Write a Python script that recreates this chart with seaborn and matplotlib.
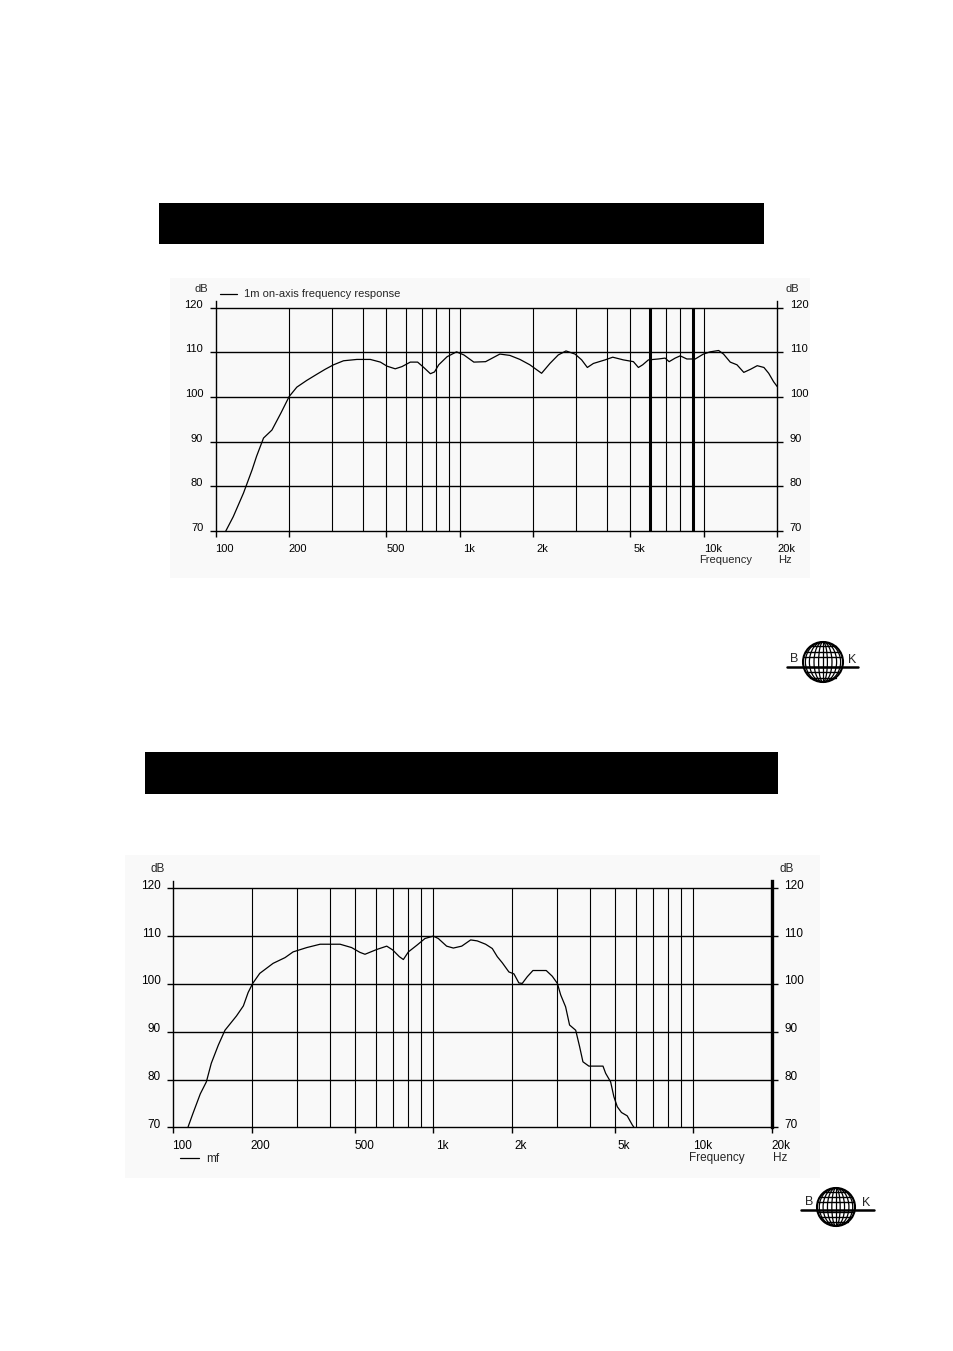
import numpy as np
import pandas as pd
import matplotlib
matplotlib.use("Agg")
import matplotlib.pyplot as plt
from matplotlib.patches import Rectangle, Ellipse
from matplotlib.transforms import ScaledTranslation
import seaborn as sns

# --- data ---
freq_on_axis = [110, 118, 130, 141, 147, 157, 170, 185, 200, 215, 236, 260, 281, 304, 334,
                379, 430, 473, 503, 544, 580, 627, 672, 712, 758, 788, 820, 887, 970, 1040,
                1142, 1276, 1460, 1604, 1764, 1937, 2164, 2341, 2532, 2724, 2967, 3158, 3332,
                3528, 3940, 4234, 4680, 5146, 5394, 5618, 5928, 6514, 6940, 7208, 7632, 8000,
                8520, 9220, 9960, 10620, 11500, 12040, 12830, 13670, 14580, 15540, 16550,
                17630, 18440, 19320, 20000]
db_on_axis = [70.0, 73.2, 78.5, 83.7, 86.7, 90.8, 92.6, 96.4, 100.1, 102.2, 103.7, 105.1,
              106.2, 107.2, 108.1, 108.4, 108.4, 107.8, 106.9, 106.3, 106.8, 107.8, 107.8,
              106.6, 105.2, 105.6, 107.2, 109.0, 110.1, 109.4, 107.8, 107.9, 109.6, 109.3,
              108.4, 107.2, 105.3, 107.5, 109.4, 110.3, 109.6, 108.3, 106.6, 107.5, 108.3,
              108.9, 108.3, 107.9, 106.6, 107.2, 108.3, 108.5, 108.7, 107.9, 108.7, 109.2,
              108.5, 108.5, 109.6, 110.1, 110.4, 109.6, 107.8, 107.2, 105.5, 106.2, 107.0,
              106.6, 105.3, 103.4, 102.3]

freq_mf = [114, 119, 127, 134, 140, 149, 158, 175, 186, 194, 202, 215, 242, 269, 289, 326,
           367, 438, 485, 522, 546, 606, 662, 698, 740, 767, 802, 865, 929, 1000, 1045, 1125,
           1194, 1286, 1392, 1475, 1589, 1686, 1762, 1843, 1953, 2042, 2133, 2198, 2298,
           2416, 2718, 2868, 3000, 3089, 3227, 3342, 3529, 3652, 3762, 3966, 4493, 4600,
           4808, 4948, 5100, 5292, 5568, 5824, 5910]
db_mf = [70.1, 72.9, 77.0, 79.5, 83.4, 87.2, 90.3, 93.3, 95.4, 98.2, 100.1, 102.2, 104.3,
         105.5, 106.7, 107.6, 108.3, 108.3, 107.6, 106.6, 106.2, 107.2, 107.9, 107.1, 105.7,
         105.1, 106.7, 108.1, 109.5, 110.0, 109.5, 107.9, 107.5, 107.9, 109.2, 109.0, 108.3,
         107.4, 105.7, 104.4, 102.5, 102.1, 100.2, 100.1, 101.5, 102.8, 102.8, 101.6, 100.1,
         97.7, 95.2, 91.4, 90.3, 86.9, 83.7, 82.8, 82.8, 81.3, 79.5, 76.4, 74.3, 73.1, 72.4,
         70.5, 70.0]

tick_freqs = [100, 200, 500, 1000, 2000, 5000, 10000, 20000]
tick_labels = ["100", "200", "500", "1k", "2k", "5k", "10k", "20k"]
db_ticks = [70, 80, 90, 100, 110, 120]
grid_freqs = [200, 300, 400, 500, 600, 700, 800, 900, 1000, 2000, 3000, 4000,
              5000, 6000, 7000, 8000, 9000, 10000]

W, H = 954, 1351
DPI = 100
FONT = "Liberation Sans"

sns.set_style("white")
plt.rcParams["font.family"] = [FONT, "DejaVu Sans"]

fig = plt.figure(figsize=(W / DPI, H / DPI), dpi=DPI)
fig.patch.set_facecolor("white")

# page decorations in pixel coordinates
page = fig.add_axes([0, 0, 1, 1], zorder=0)
page.set_xlim(0, W)
page.set_ylim(H, 0)
page.axis("off")

page.add_patch(Rectangle((170, 278), 640, 300, color="#f9f9f9", lw=0))
page.add_patch(Rectangle((125, 855), 695, 323, color="#f9f9f9", lw=0))
page.add_patch(Rectangle((159, 203), 605, 41, color="black", lw=0))
page.add_patch(Rectangle((145, 752), 633, 42, color="black", lw=0))


def draw_logo(cx, cy, r, x0, x1, by, bx, kx):
    page.add_patch(Ellipse((cx, cy), 2 * r, 2 * r, fill=False, lw=1.5, ec="black"))
    for k in [0.22, 0.45, 0.68, 0.88]:
        page.add_patch(Ellipse((cx, cy), 2 * r * k, 2 * r, fill=False, lw=0.9, ec="black"))
    page.plot([cx, cx], [cy - r, cy + r], color="black", lw=0.9)
    for f in [-0.78, -0.52, -0.26, 0.26, 0.52, 0.78]:
        half = r * np.sqrt(1 - f ** 2)
        page.plot([cx - half, cx + half], [cy + f * r, cy + f * r], color="black", lw=1.0)
    page.plot([x0, x1], [by, by], color="black", lw=1.8)
    page.text(bx, by - 2, "B", fontsize=9, ha="center", va="bottom")
    page.text(kx, by - 1, "K", fontsize=9, ha="center", va="bottom")


draw_logo(823, 662, 20, 787, 858, 667, 794, 852)
draw_logo(836, 1207, 19, 801, 874, 1210, 809, 866)


def make_chart(left, right, top, bottom, freqs, dbs, label, legend_top, fs, thick_grid,
               right_lw, tick_dx, foot_dy):
    px_per_db = (bottom - top) / 50.0
    ext = 7.0
    ax = fig.add_axes([left / W, 1 - bottom / H, (right - left) / W,
                       (bottom - top + ext) / H], zorder=1)
    ax.set_facecolor("none")
    ax.set_xscale("log")
    ax.set_xlim(100, 20000)
    ax.set_ylim(70, 120 + ext / px_per_db)

    lws = [2.2 if f in thick_grid else 0.8 for f in grid_freqs]
    ax.vlines(grid_freqs, 70, 120, colors="black", linewidths=lws, clip_on=False)
    ax.hlines(db_ticks, 100, 20000, colors="black", linewidths=1.0, clip_on=False)

    df = pd.DataFrame({"Frequency": freqs, "dB": dbs, "curve": label})
    sns.lineplot(data=df, x="Frequency", y="dB", hue="curve", palette=["black"],
                 linewidth=0.9, ax=ax, legend=True)

    for s in ["top", "bottom"]:
        ax.spines[s].set_visible(False)
    ax.spines["left"].set_color("black")
    ax.spines["left"].set_linewidth(1.0)
    ax.spines["right"].set_color("black")
    ax.spines["right"].set_linewidth(right_lw)

    ax.set_xticks(tick_freqs)
    ax.set_xticklabels(tick_labels)
    ax.xaxis.set_minor_locator(matplotlib.ticker.NullLocator())
    ax.set_yticks(db_ticks)
    ax.set_yticklabels([str(v) for v in db_ticks])
    ax.tick_params(axis="x", direction="out", length=4, width=1, pad=5, labelsize=fs,
                   bottom=True, colors="black")
    ax.tick_params(axis="y", direction="out", length=4, width=1, pad=5, labelsize=fs,
                   left=True, right=True, labelleft=True, labelright=True, colors="black")
    for t in ax.get_xticklabels():
        t.set_transform(t.get_transform() + ScaledTranslation(tick_dx / DPI, 0, fig.dpi_scale_trans))
    for t in ax.get_yticklabels():
        t.set_transform(t.get_transform() + ScaledTranslation(0, 4 / DPI, fig.dpi_scale_trans))
    ax.set_xlabel("")
    ax.set_ylabel("")

    # unit labels
    ax.text(-8 / (right - left), 120 + 19 / px_per_db, "dB", transform=ax.get_yaxis_transform(),
            ha="right", va="center", fontsize=fs)
    ax.text(1 + 8 / (right - left), 120 + 19 / px_per_db, "dB", transform=ax.get_yaxis_transform(),
            ha="left", va="center", fontsize=fs)
    ax.text(10000 * 0.96, 70 - foot_dy / px_per_db, "Frequency", ha="left", va="center", fontsize=fs)
    ax.text(20000 * 1.01, 70 - foot_dy / px_per_db, "Hz", ha="left", va="center", fontsize=fs)

    if legend_top:
        anchor = (0.005, 1.0)
        loc = "lower left"
    else:
        anchor = (0.01, -0.1)
        loc = "upper left"
    leg = ax.legend(loc=loc, bbox_to_anchor=anchor, frameon=False, fontsize=fs,
                    handlelength=1.6, handletextpad=0.6, borderaxespad=0, borderpad=0.1)
    for ln in leg.get_lines():
        ln.set_linewidth(0.9)
    return ax


make_chart(215.7, 777.3, 307.6, 531, freq_on_axis, db_on_axis, "1m on-axis frequency response",
           True, 8, [6000, 9000], 1.0, 9, 29)
make_chart(173.3, 771.6, 888.3, 1127.3, freq_mf, db_mf, "mf", False, 8.5, [], 2.4, 9, 31)

fig.savefig("out.png", dpi=DPI, facecolor="white")
